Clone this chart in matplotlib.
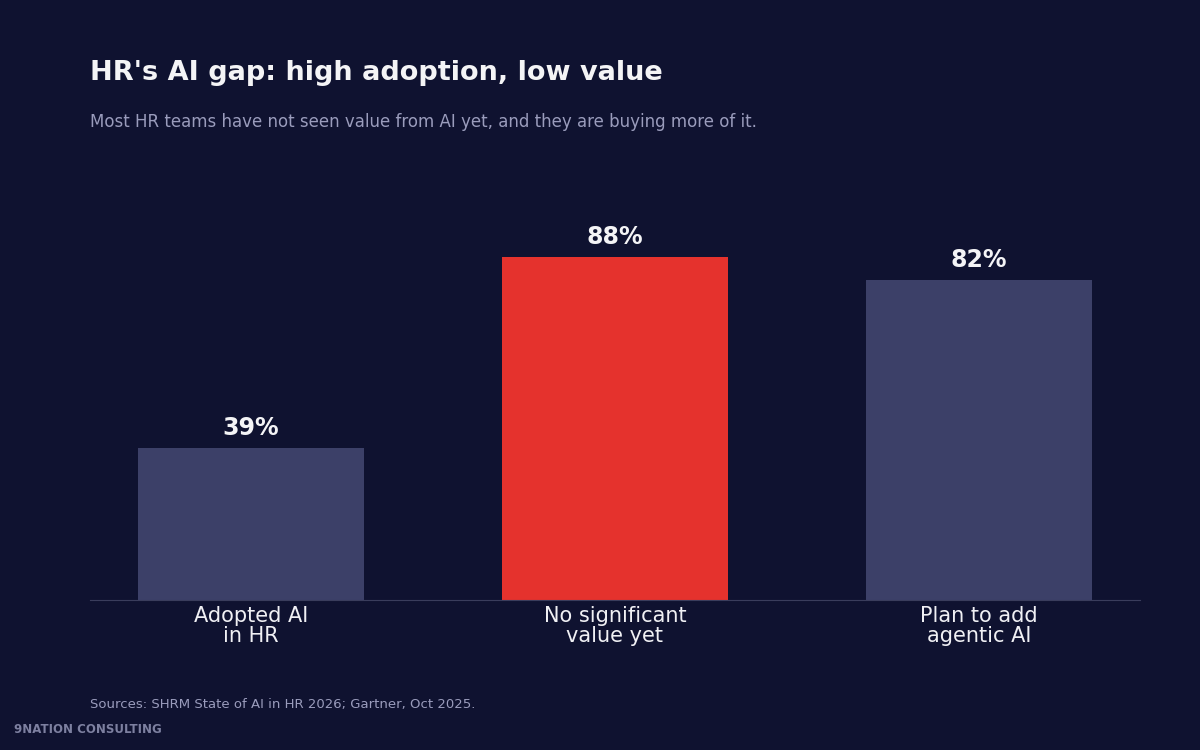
import matplotlib
matplotlib.use("Agg")
import matplotlib.pyplot as plt

categories = ["Adopted AI\nin HR", "No significant\nvalue yet", "Plan to add\nagentic AI"]
values = [39, 88, 82]
highlight = [False, True, False]

bg = "#0f1230"
fig = plt.figure(figsize=(12, 7.5), dpi=100, facecolor=bg)
ax = fig.add_axes([0.075, 0.2, 0.875, 0.52], facecolor=bg)

colors = ["#e5322d" if h else "#3c4068" for h in highlight]
x = range(len(values))
bars = ax.bar(x, values, width=0.62, color=colors)
for b, v in zip(bars, values):
    ax.text(b.get_x() + b.get_width() / 2, v + 2, f"{v}%", ha="center", va="bottom",
            color="#f4f4f6", fontsize=17, fontweight="bold")

ax.set_xlim(-0.442, 2.442)
ax.set_ylim(0, 100)
ax.set_xticks(list(x))
ax.set_xticklabels(categories, color="#f0f0f4", fontsize=15, linespacing=1.0)
ax.tick_params(axis="x", length=0, pad=4)
ax.set_yticks([])
for s in ["top", "right", "left"]:
    ax.spines[s].set_visible(False)
ax.spines["bottom"].set_color("#3a3d5c")

fig.text(0.075, 0.903, "HR's AI gap: high adoption, low value", color="#f4f4f6",
         fontsize=19.5, fontweight="bold", va="center")
fig.text(0.075, 0.837, "Most HR teams have not seen value from AI yet, and they are buying more of it.",
         color="#9a9cbc", fontsize=12, va="center")
fig.text(0.075, 0.061, "Sources: SHRM State of AI in HR 2026; Gartner, Oct 2025.",
         color="#9a9cbc", fontsize=9.5, va="center")
fig.text(0.012, 0.027, "9NATION CONSULTING", color="#7d80a0", fontsize=8.5,
         fontweight="bold", va="center")

fig.savefig("out.png", facecolor=bg)
